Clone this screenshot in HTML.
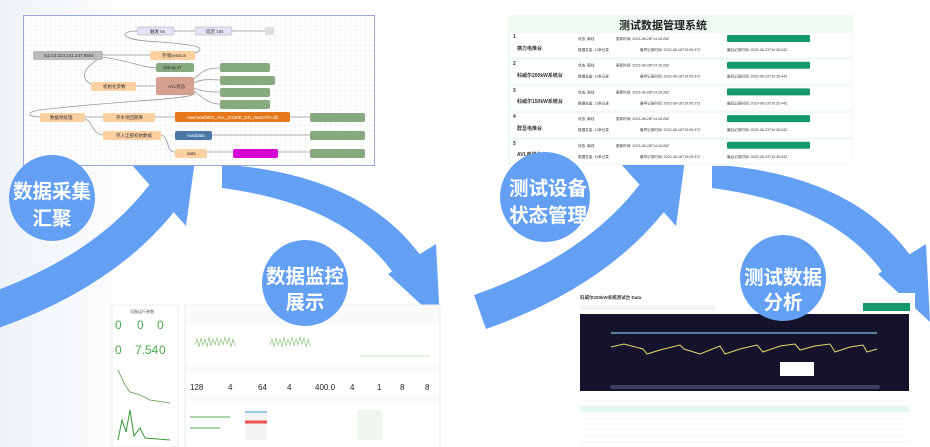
<!DOCTYPE html>
<html><head><meta charset="utf-8"><style>
html,body{margin:0;padding:0;background:#fff;}
svg{display:block}
text{font-family:"Liberation Sans","Noto Sans CJK SC",sans-serif}
.c{font-family:"Noto Sans CJK SC","WenQuanYi Zen Hei",sans-serif;font-weight:bold;fill:#fff;font-size:19.5px}
</style></head><body>
<svg width="930" height="447" viewBox="0 0 930 447" xmlns="http://www.w3.org/2000/svg">
<defs>
<pattern id="g" width="5" height="5" patternUnits="userSpaceOnUse"><path d="M5 0H0V5" fill="none" stroke="#e8e8ee" stroke-width="0.6"/></pattern>
<linearGradient id="bg" x1="0" x2="1"><stop offset="0" stop-color="#eef3f8"/><stop offset="0.15" stop-color="#fff"/></linearGradient>
</defs>
<rect width="930" height="447" fill="url(#bg)"/>

<g id="arr" fill="#63a0f4">
<path d="M-10 312 Q 110 270 168 190" fill="none" stroke="#63a0f4" stroke-width="36"/>
<polygon points="132,165 195,160 186,226"/>
<path d="M222 166 L240 166 Q 370 180 425 262 L398 280 Q 350 205 222 188 Z"/>
<polygon points="388,274 436,244 440,322"/>
</g>
<use href="#arr" transform="translate(490,0)"/>

<rect x="23.5" y="15.5" width="351" height="150" fill="#fff" stroke="#9aa7d8"/>
<rect x="24" y="16" width="350" height="149" fill="url(#g)"/>
<g stroke="#999" fill="none" stroke-width="0.8">
<path d="M137 31 C120 31 115 40 160 42 C200 45 210 48 190 55"/>
<path d="M100 55 H150"/><path d="M100 57 C130 60 140 68 160 68"/>
<path d="M100 58 C80 70 80 80 95 86"/><path d="M135 86 H155"/>
<path d="M193 80 C205 68 210 68 220 68 M193 83 C205 78 210 80 220 80 M193 88 C205 92 210 92 220 92 M193 90 C205 100 210 104 220 104"/>
<path d="M195 92 C200 100 120 100 40 110 C25 112 28 117 40 117"/>
<path d="M82 117 H105 M82 118 C95 120 90 135 105 135 M155 117 H175 M160 135 C170 135 165 152 175 152 M290 117 H310 M210 135 H310 M205 152 H235 M275 152 H310"/>
<path d="M172 31 H195 M230 31 H265"/>
</g>
<g font-size="4.5" fill="#333">
<rect x="137" y="27" width="37" height="8" rx="2" fill="#e6e0f8" stroke="#aaa" stroke-width=".5"/><text x="150" y="33">触发 5s</text>
<rect x="195" y="27" width="37" height="8" rx="2" fill="#e6e0f8" stroke="#aaa" stroke-width=".5"/><text x="206" y="33">延迟 10s</text>
<rect x="265" y="27" width="9" height="8" rx="2" fill="#ddd"/>
<rect x="33" y="51" width="70" height="9" rx="2" fill="#bbb"/><text x="44" y="57">tcp:10.223.141.247:8604</text>
<rect x="150" y="51" width="45" height="9" rx="2" fill="#fdd0a2"/><text x="162" y="57">存储session</text>
<rect x="156" y="63" width="38" height="9" rx="2" fill="#87a980"/><text x="163" y="69">debug 47</text>
<rect x="91" y="82" width="45" height="9" rx="2" fill="#fdd0a2"/><text x="103" y="88">初始化参数</text>
<rect x="156" y="77" width="38" height="18" rx="2" fill="#d6a091"/><text x="168" y="88">AVL状态</text>
<rect x="220" y="63" width="50" height="9" rx="2" fill="#87a980"/>
<rect x="220" y="76" width="55" height="9" rx="2" fill="#87a980"/>
<rect x="220" y="88" width="50" height="9" rx="2" fill="#87a980"/>
<rect x="220" y="100" width="50" height="9" rx="2" fill="#87a980"/>
<rect x="40" y="113" width="45" height="9" rx="2" fill="#fdd0a2"/><text x="50" y="119">数据预处理</text>
<rect x="103" y="113" width="52" height="9" rx="2" fill="#fdd0a2"/><text x="116" y="119">存水地回期库</text>
<rect x="175" y="112" width="115" height="10" rx="2" fill="#e5781a"/><text x="187" y="119" fill="#fff">rawmeta/bEG_AVL_G190E_DD_rawDATA.db</text>
<rect x="310" y="113" width="55" height="9" rx="2" fill="#87a980"/>
<rect x="103" y="131" width="58" height="9" rx="2" fill="#fdd0a2"/><text x="116" y="137">存入全部初始数据</text>
<rect x="175" y="131" width="37" height="9" rx="2" fill="#4a76a8"/><text x="187" y="137" fill="#fff">readdata</text>
<rect x="310" y="131" width="55" height="9" rx="2" fill="#87a980"/>
<rect x="175" y="149" width="32" height="9" rx="2" fill="#fdd0a2"/><text x="187" y="155">data</text>
<rect x="233" y="149" width="45" height="9" rx="2" fill="#d400d4"/>
<rect x="310" y="149" width="55" height="9" rx="2" fill="#87a980"/>
</g>

<rect x="508" y="15" width="345" height="150" fill="#eefaf2"/>
<text x="663" y="29" text-anchor="middle" font-size="11" font-weight="bold" fill="#222" font-family="Noto Sans CJK SC,sans-serif">测试数据管理系统</text>
<g font-size="3.6" fill="#333">
<g id="row"><rect x="511" y="33" width="341" height="24" fill="#fff"/><rect x="727" y="35" width="83" height="7" rx="1" fill="#13996a"/>
<text x="578" y="40">状态:  离线</text><text x="616" y="40">更新时间:  2023-08-28T14:16:26Z</text>
<text x="578" y="51">数据总量:  11条记录</text><text x="640" y="51">最早记录时间:  2023-08-18T19:09:37Z</text><text x="727" y="51">最后记录时间:  2023-08-23T10:35:44Z</text></g>
<use href="#row" y="26.7"/><use href="#row" y="53.4"/><use href="#row" y="80.1"/><use href="#row" y="106.8"/>
</g>
<g font-size="5" fill="#333" font-weight="bold"><text x="513" y="38">1</text><text x="517" y="50">横力电推台</text><text x="513" y="65">2</text><text x="517" y="77">科威尔200kW系统台</text><text x="513" y="92">3</text><text x="517" y="103">科威尔150kW系统台</text><text x="513" y="118">4</text><text x="517" y="130">群显电推台</text><text x="513" y="145">5</text><text x="517" y="156">AVL电推台</text></g>

<circle cx="52" cy="198" r="43" fill="#63a0f4"/>
<text class="c" x="52" y="198" text-anchor="middle">数据采集</text><text class="c" x="52" y="225" text-anchor="middle">汇聚</text>
<circle cx="545" cy="197" r="45" fill="#63a0f4"/>
<text class="c" x="548" y="195" text-anchor="middle">测试设备</text><text class="c" x="548" y="222" text-anchor="middle">状态管理</text>

<g font-size="4" fill="#555">
<rect x="112" y="305" width="66" height="142" fill="#fff" stroke="#eee"/>
<text x="130" y="313">设备运行参数</text>
<g font-size="12" fill="#4aa84a"><text x="115" y="329">0</text><text x="137" y="329">0</text><text x="157" y="329">0</text><text x="115" y="354">0</text><text x="135" y="354">7.54</text><text x="159" y="354">0</text></g>
<path d="M118 370 L125 385 L130 392 L140 395 L150 400 L170 403" fill="none" stroke="#5a9a4a" stroke-width=".8"/>
<path d="M118 440 L122 420 L126 432 L130 410 L134 436 L140 428 L145 438 L170 440" fill="none" stroke="#3a9a3a" stroke-width="1"/>
<rect x="185" y="305" width="255" height="142" fill="#fafafa" stroke="#eee"/>
<rect x="186" y="325" width="253" height="40" fill="#fff"/>
<path d="M195 345 l2-6 2 8 2-9 2 7 2-6 2 8 2-10 2 9 2-7 2 6 2-8 2 9 2-7 2 6 2-8 2 7 2-6 2 9 2-8 2 7 M270 345 l2-6 2 8 2-9 2 7 2-6 2 8 2-10 2 9 2-7 2 6 2-8 2 9 2-7 2 6 2-8 2 7 2-6 2 9 2-8 2 7" fill="none" stroke="#9ccc8c" stroke-width=".8"/>
<path d="M360 356 H430" stroke="#cde5c8" stroke-width="1"/>
<rect x="186" y="373" width="253" height="20" fill="#fff"/>
<g font-size="8" fill="#222"><text x="190" y="390">128</text><text x="228" y="390">4</text><text x="258" y="390">64</text><text x="287" y="390">4</text><text x="315" y="390">400.0</text><text x="350" y="390">4</text><text x="377" y="390">1</text><text x="400" y="390">8</text><text x="425" y="390">8</text></g>
<rect x="186" y="402" width="253" height="45" fill="#fff"/>
<rect x="245" y="410" width="22" height="30" fill="#f4f4f4"/>
<path d="M245 412 h22" stroke="#9cd" stroke-width="2"/><path d="M245 422 h22" stroke="#e55" stroke-width="3"/>
<path d="M190 417 h40 M190 428 h30" stroke="#5a5" stroke-width="1"/>
<rect x="357" y="410" width="25" height="30" fill="#eef6ee"/>
</g>

<rect x="575" y="293" width="340" height="152" fill="#fff"/>
<text x="580" y="299" font-size="4.5" font-weight="bold" fill="#333">科威尔200kW系统测试台 Data</text>
<rect x="580" y="305" width="70" height="5" fill="#f4f4f4"/><rect x="645" y="305" width="70" height="5" fill="#f4f4f4"/>
<rect x="863" y="303" width="47" height="8" fill="#13996a"/>
<rect x="580" y="314" width="329" height="77" fill="#15132b"/>
<path d="M611 333 H877" stroke="#7fc0e8" stroke-width="1.2"/>
<path d="M611 347 L624 344 L643 349 L647 354 L660 350 L680 345 L684 349 L700 354 L720 346 L725 354 L740 349 L757 345 L763 352 L780 346 L795 344 L800 350 L815 346 L830 344 L835 352 L850 347 L863 345 L867 352 L877 349" fill="none" stroke="#e8d86c" stroke-width="1"/>
<rect x="780" y="362" width="34" height="14" fill="#fff"/>
<rect x="610" y="385" width="270" height="4" rx="2" fill="#3c3e5c"/>
<rect x="580" y="400" width="329" height="0.6" fill="#f2f2f2"/>
<rect x="580" y="406" width="329" height="6" fill="#e4f8ee"/>
<g stroke="#eee" stroke-width=".6"><path d="M580 418H909M580 424H909M580 430H909M580 436H909M580 442H909"/></g>

<circle cx="305" cy="283" r="43" fill="#63a0f4"/>
<text class="c" x="305" y="283" text-anchor="middle">数据监控</text><text class="c" x="305" y="309" text-anchor="middle">展示</text>
<circle cx="783" cy="278" r="43" fill="#63a0f4"/>
<text class="c" x="783" y="284" text-anchor="middle">测试数据</text><text class="c" x="783" y="309" text-anchor="middle">分析</text>
</svg>
</body></html>
